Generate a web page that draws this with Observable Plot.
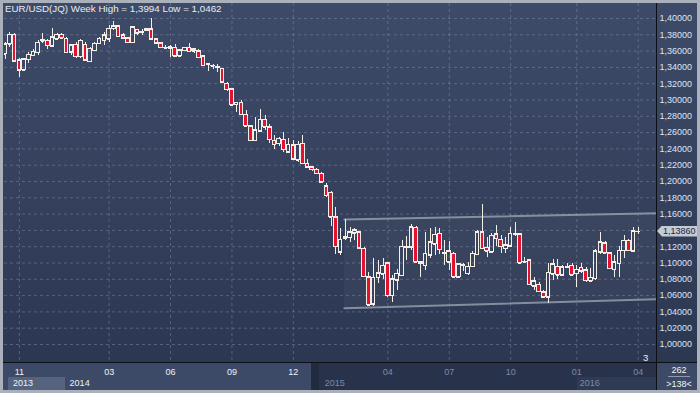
<!DOCTYPE html>
<html><head><meta charset="utf-8">
<script src="https://cdn.jsdelivr.net/npm/d3@7"></script>
<script src="https://cdn.jsdelivr.net/npm/@observablehq/plot@0.6"></script>
<style>
html,body{margin:0;padding:0;background:#aab1bb;}
#wrap{position:relative;width:700px;height:393px;overflow:hidden;background:#aab1bb;font-family:"Liberation Sans",Arial,sans-serif;}
.p{position:absolute;}
</style></head><body>
<div id="wrap">
  <div class="p" style="left:3px;top:3px;width:694px;height:360px;background:linear-gradient(#3e4b68,#2c3752);"></div>
  <div class="p" style="left:3px;top:363px;width:309px;height:27px;background:#3d4a67;"></div>
  <div class="p" style="left:8px;top:377px;width:57px;height:13px;background:#55637e;"></div>
  <div class="p" style="left:312px;top:363px;width:344px;height:27px;background:#28334b;"></div>
  <div class="p" style="left:311px;top:363px;width:8px;height:27px;background:#212b40;"></div>
  <div class="p" style="left:577px;top:377px;width:79px;height:13px;background:#2f3b55;"></div>
  <div class="p" style="left:657px;top:363px;width:40px;height:27px;background:#3d4a67;"></div>
  <div id="chart" class="p" style="left:0;top:0;"></div>
  <div class="p" style="left:3px;top:362px;width:694px;height:1px;background:#0c0f15;"></div>
  <div class="p" style="left:656px;top:3px;width:1px;height:387px;background:#0c0f15;"></div>
  <div id="title" class="p" style="left:5px;top:3px;font-size:9.8px;color:#e6ecf6;white-space:pre;"></div>
  <div class="p" style="left:643px;top:352px;font-size:9.5px;color:#f0f3f8;">3</div>
  <div class="p" style="left:668px;top:365px;width:22px;text-align:center;font-size:9px;color:#f0f3f8;border-bottom:1px solid #8e99ad;line-height:11px;">262</div>
  <div class="p" style="left:663px;top:379px;width:32px;text-align:center;font-size:9px;color:#f0f3f8;line-height:11px;">&gt;138&lt;</div>
  <div id="tag" class="p" style="left:657px;width:40px;height:11px;background:#c5cbd5;clip-path:polygon(0 50%,5px 0,100% 0,100% 100%,5px 100%);font-size:9px;line-height:11px;color:#1c2740;text-indent:6px;"></div>
</div>
<script>
const open = [1.3560,1.3685,1.3800,1.3485,1.3362,1.3495,1.3540,1.3580,1.3718,1.3727,1.3660,1.3745,1.3800,1.3751,1.3587,1.3677,1.3530,1.3677,1.3472,1.3607,
1.3690,1.3726,1.3746,1.3877,1.3902,1.3795,1.3755,1.3705,1.3861,1.3828,1.3849,1.3869,1.3746,1.3697,1.3632,1.3632,1.3644,1.3534,1.3604,1.3640,
1.3600,1.3600,1.3534,1.3430,1.3415,1.3398,1.3383,1.3200,1.3130,1.2940,1.2969,1.2822,1.2675,1.2503,1.2617,1.2757,1.2667,1.2503,1.2463,1.2515,
1.2360,1.2442,1.2258,1.2463,1.2217,1.2176,1.2143,1.2094,1.1939,1.1861,1.1562,1.1132,1.1305,1.1310,1.1399,1.1378,1.1174,1.0826,1.0491,1.0818,
1.0859,1.0998,1.0601,1.0790,1.0846,1.1190,1.1194,1.1432,1.1010,1.0969,1.1092,1.1227,1.1358,1.1120,1.1010,1.1113,1.0826,1.0969,1.0867,1.0957,
1.1104,1.1378,1.1186,1.1133,1.1350,1.1285,1.1174,1.1206,1.1350,1.1350,1.1010,1.1031,1.0712,1.0733,1.0642,1.0580,1.0859,1.0957,1.0847,1.0950,
1.0969,1.0867,1.0941,1.0908,1.0777,1.0806,1.1132,1.1243,1.1120,1.0916,1.0990,1.1153,1.1276,1.1145,1.1385];
const high = [1.3705,1.3832,1.3815,1.3505,1.3510,1.3580,1.3620,1.3730,1.3812,1.3740,1.3882,1.3815,1.3810,1.3770,1.3680,1.3700,1.3740,1.3700,1.3640,1.3700,
1.3770,1.3828,1.3910,1.3960,1.3910,1.3810,1.3765,1.3905,1.3870,1.3870,1.3880,1.3994,1.3760,1.3710,1.3670,1.3670,1.3680,1.3620,1.3650,1.3690,
1.3630,1.3615,1.3545,1.3444,1.3440,1.3430,1.3390,1.3210,1.3140,1.2973,1.2990,1.2870,1.2690,1.2789,1.2887,1.2810,1.2700,1.2564,1.2544,1.2600,
1.2524,1.2503,1.2491,1.2564,1.2266,1.2190,1.2160,1.2105,1.1972,1.1882,1.1679,1.1420,1.1534,1.1430,1.1420,1.1390,1.1190,1.0888,1.1051,1.1030,
1.1051,1.1010,1.0850,1.0916,1.1276,1.1330,1.1468,1.1450,1.1010,1.1378,1.1420,1.1432,1.1420,1.1276,1.1268,1.1130,1.0990,1.0990,1.1010,1.1140,
1.1400,1.1714,1.1317,1.1358,1.1460,1.1337,1.1317,1.1440,1.1493,1.1360,1.1064,1.1040,1.0818,1.0760,1.0660,1.0990,1.1040,1.1040,1.0970,1.0990,
1.0990,1.0969,1.0990,1.0941,1.0929,1.1160,1.1378,1.1260,1.1130,1.1092,1.1202,1.1337,1.1290,1.1432,1.1431];
const low = [1.3500,1.3650,1.3460,1.3280,1.3345,1.3450,1.3530,1.3545,1.3690,1.3625,1.3640,1.3735,1.3745,1.3570,1.3550,1.3510,1.3510,1.3470,1.3460,1.3590,
1.3680,1.3665,1.3705,1.3849,1.3770,1.3745,1.3690,1.3695,1.3790,1.3795,1.3835,1.3740,1.3690,1.3630,1.3615,1.3521,1.3530,1.3520,1.3590,1.3580,
1.3575,1.3505,1.3420,1.3353,1.3370,1.3341,1.3210,1.3110,1.2920,1.2850,1.2815,1.2665,1.2500,1.2500,1.2610,1.2620,1.2470,1.2389,1.2430,1.2360,
1.2350,1.2258,1.2237,1.2209,1.2165,1.2125,1.2085,1.1980,1.1800,1.1448,1.1104,1.1098,1.1270,1.1255,1.1276,1.1160,1.0820,1.0462,1.0470,1.0752,
1.0800,1.0580,1.0520,1.0663,1.0840,1.1035,1.1150,1.0990,1.0818,1.0908,1.1050,1.1092,1.1104,1.0970,1.0908,1.0810,1.0815,1.0900,1.0850,1.0950,
1.1090,1.1160,1.1071,1.1113,1.1202,1.1113,1.1120,1.1200,1.1330,1.0990,1.0990,1.0720,1.0663,1.0640,1.0560,1.0507,1.0785,1.0800,1.0830,1.0929,
1.0840,1.0703,1.0867,1.0765,1.0770,1.0790,1.1110,1.1110,1.0920,1.0818,1.0818,1.1051,1.1140,1.1140,1.1349];
const close = [1.3685,1.3800,1.3475,1.3362,1.3500,1.3555,1.3590,1.3702,1.3739,1.3665,1.3771,1.3800,1.3758,1.3579,1.3669,1.3530,1.3730,1.3485,1.3628,1.3690,
1.3753,1.3795,1.3877,1.3902,1.3779,1.3755,1.3705,1.3890,1.3820,1.3830,1.3869,1.3746,1.3697,1.3644,1.3634,1.3653,1.3534,1.3610,1.3644,1.3590,
1.3625,1.3518,1.3423,1.3438,1.3420,1.3402,1.3218,1.3125,1.2933,1.2965,1.2822,1.2675,1.2503,1.2626,1.2757,1.2667,1.2515,1.2450,1.2524,1.2389,
1.2450,1.2273,1.2450,1.2217,1.2176,1.2143,1.2094,1.1991,1.1828,1.1562,1.1202,1.1285,1.1315,1.1378,1.1366,1.1182,1.0834,1.0479,1.0818,1.0875,
1.0969,1.0601,1.0800,1.0867,1.1202,1.1200,1.1440,1.1010,1.0990,1.1113,1.1255,1.1346,1.1162,1.1125,1.1145,1.0826,1.0982,1.0975,1.0957,1.1113,
1.1378,1.1174,1.1145,1.1337,1.1297,1.1202,1.1215,1.1358,1.1360,1.0998,1.1015,1.0733,1.0773,1.0650,1.0580,1.0880,1.0982,1.0847,1.0949,1.0957,
1.0847,1.0916,1.0900,1.0785,1.0818,1.1145,1.1255,1.1120,1.0929,1.1010,1.1153,1.1276,1.1153,1.1390,1.1386];

const priceTicks = [1.00,1.02,1.04,1.06,1.08,1.10,1.12,1.14,1.16,1.18,1.20,1.22,1.24,1.26,1.28,1.30,1.32,1.34,1.36,1.38,1.40];
const monthTickBars = [3,22,35,48,61,81,94,107,121,134];
const monthTickLabels = ["11","03","06","09","12","04","07","10","01","04"];
const yearBars = [1,13,67,121];
const yearLabels = ["2013","2014","2015","2016"];
const fadedFromBar = 67;

const channelBars = [71.8,137.9];
const channelUpper = [1.1535,1.1610];
const channelLower = [1.0445,1.0555];

const bars = open.map((o,i)=>({i, o, h: high[i], l: low[i], c: close[i]}));
const chan = channelBars.map((x,k)=>({x, hi: channelUpper[k], lo: channelLower[k]}));
const monthMap = new Map(monthTickBars.map((b,k)=>[b, monthTickLabels[k]]));
const years = yearBars.map((b,k)=>({i:b, label: yearLabels[k], faded: b >= fadedFromBar}));
const comma = (v, n) => v.toFixed(n).replace(".", ",");
const last = close[close.length - 1];
// the last-price tag sits on top of the axis label it covers
const labelTicks = priceTicks.filter(t => Math.abs(t - last) > 0.009);

const W = "#f3efe6", RED = "#e3122e";
const halfW = 0.38;

const plot = Plot.plot({
  width: 700, height: 393,
  marginLeft: 4, marginRight: 44, marginTop: 3, marginBottom: 31,
  style: {background: "transparent", fontFamily: "Liberation Sans, Arial, sans-serif", fontSize: "9px", overflow: "visible"},
  x: {type: "linear", domain: [-0.148, 137.87], axis: null},
  y: {domain: [0.97791, 1.41840], axis: null},
  marks: [
    Plot.gridY(priceTicks, {stroke: "#8493b2", strokeOpacity: 0.45, strokeDasharray: "3,3"}),
    Plot.gridX(monthTickBars, {stroke: "#8493b2", strokeOpacity: 0.45, strokeDasharray: "3,3"}),
    Plot.areaY(chan, {x: "x", y1: "lo", y2: "hi", fill: "#ffffff", fillOpacity: 0.035, clip: true}),
    Plot.line(chan, {x: "x", y: "hi", stroke: "#939cab", strokeWidth: 2, strokeOpacity: 0.85, clip: true}),
    Plot.line(chan, {x: "x", y: "lo", stroke: "#939cab", strokeWidth: 2, strokeOpacity: 0.85, clip: true}),
    Plot.ruleX(bars, {x: "i", y1: "h", y2: d => Math.max(d.o, d.c), stroke: W, strokeWidth: 1, clip: true, shapeRendering: "crispEdges"}),
    Plot.ruleX(bars, {x: "i", y1: d => Math.min(d.o, d.c), y2: "l", stroke: W, strokeWidth: 1, clip: true, shapeRendering: "crispEdges"}),
    Plot.rect(bars, {filter: d => d.c < d.o, x1: d => d.i - halfW, x2: d => d.i + halfW, y1: "o", y2: "c", fill: RED, stroke: W, strokeWidth: 1, clip: true, shapeRendering: "crispEdges"}),
    Plot.rect(bars, {filter: d => d.c >= d.o, x1: d => d.i - halfW, x2: d => d.i + halfW, y1: "o", y2: "c", fill: "none", stroke: W, strokeWidth: 1, clip: true, shapeRendering: "crispEdges"}),
    Plot.ruleY(bars, {y: "c", x1: d => d.i - halfW, x2: d => d.i + halfW, stroke: W, strokeWidth: 1, clip: true, shapeRendering: "crispEdges"}),
    Plot.ruleY(bars, {y: "o", x1: d => d.i - halfW, x2: d => d.i + halfW, stroke: W, strokeWidth: 1, clip: true, shapeRendering: "crispEdges"}),
    Plot.axisY(labelTicks, {anchor: "right", tickSize: 0, tickPadding: 3, tickFormat: d => comma(d, 5), fill: "#dbe5f4", fontSize: 9}),
    Plot.axisX(monthTickBars.filter(b => b < fadedFromBar), {anchor: "bottom", tickSize: 0, tickPadding: 6.5, tickFormat: d => monthMap.get(d), fill: "#eef2f8", fontSize: 9}),
    Plot.axisX(monthTickBars.filter(b => b >= fadedFromBar), {anchor: "bottom", tickSize: 0, tickPadding: 6.5, tickFormat: d => monthMap.get(d), fill: "#7d8aa1", fontSize: 9}),
    Plot.text(years.filter(d => !d.faded), {x: "i", text: "label", frameAnchor: "bottom", lineAnchor: "bottom", textAnchor: "start", dx: 3, dy: 23.7, fill: "#eef2f8", fontSize: 9}),
    Plot.text(years.filter(d => d.faded), {x: "i", text: "label", frameAnchor: "bottom", lineAnchor: "bottom", textAnchor: "start", dx: 3, dy: 23.7, fill: "#7d8aa1", fontSize: 9})
  ]
});
document.getElementById("chart").appendChild(plot);

const hi = d3.max(high), lo = d3.min(low);
document.getElementById("title").textContent = `EUR/USD(JQ) Week High = ${comma(hi,4)} Low = ${comma(lo,4)}`;
const tag = document.getElementById("tag");
tag.textContent = comma(last, 5);
tag.style.top = (plot.scale("y").apply(last) - 5.5) + "px";
</script>
</body></html>
